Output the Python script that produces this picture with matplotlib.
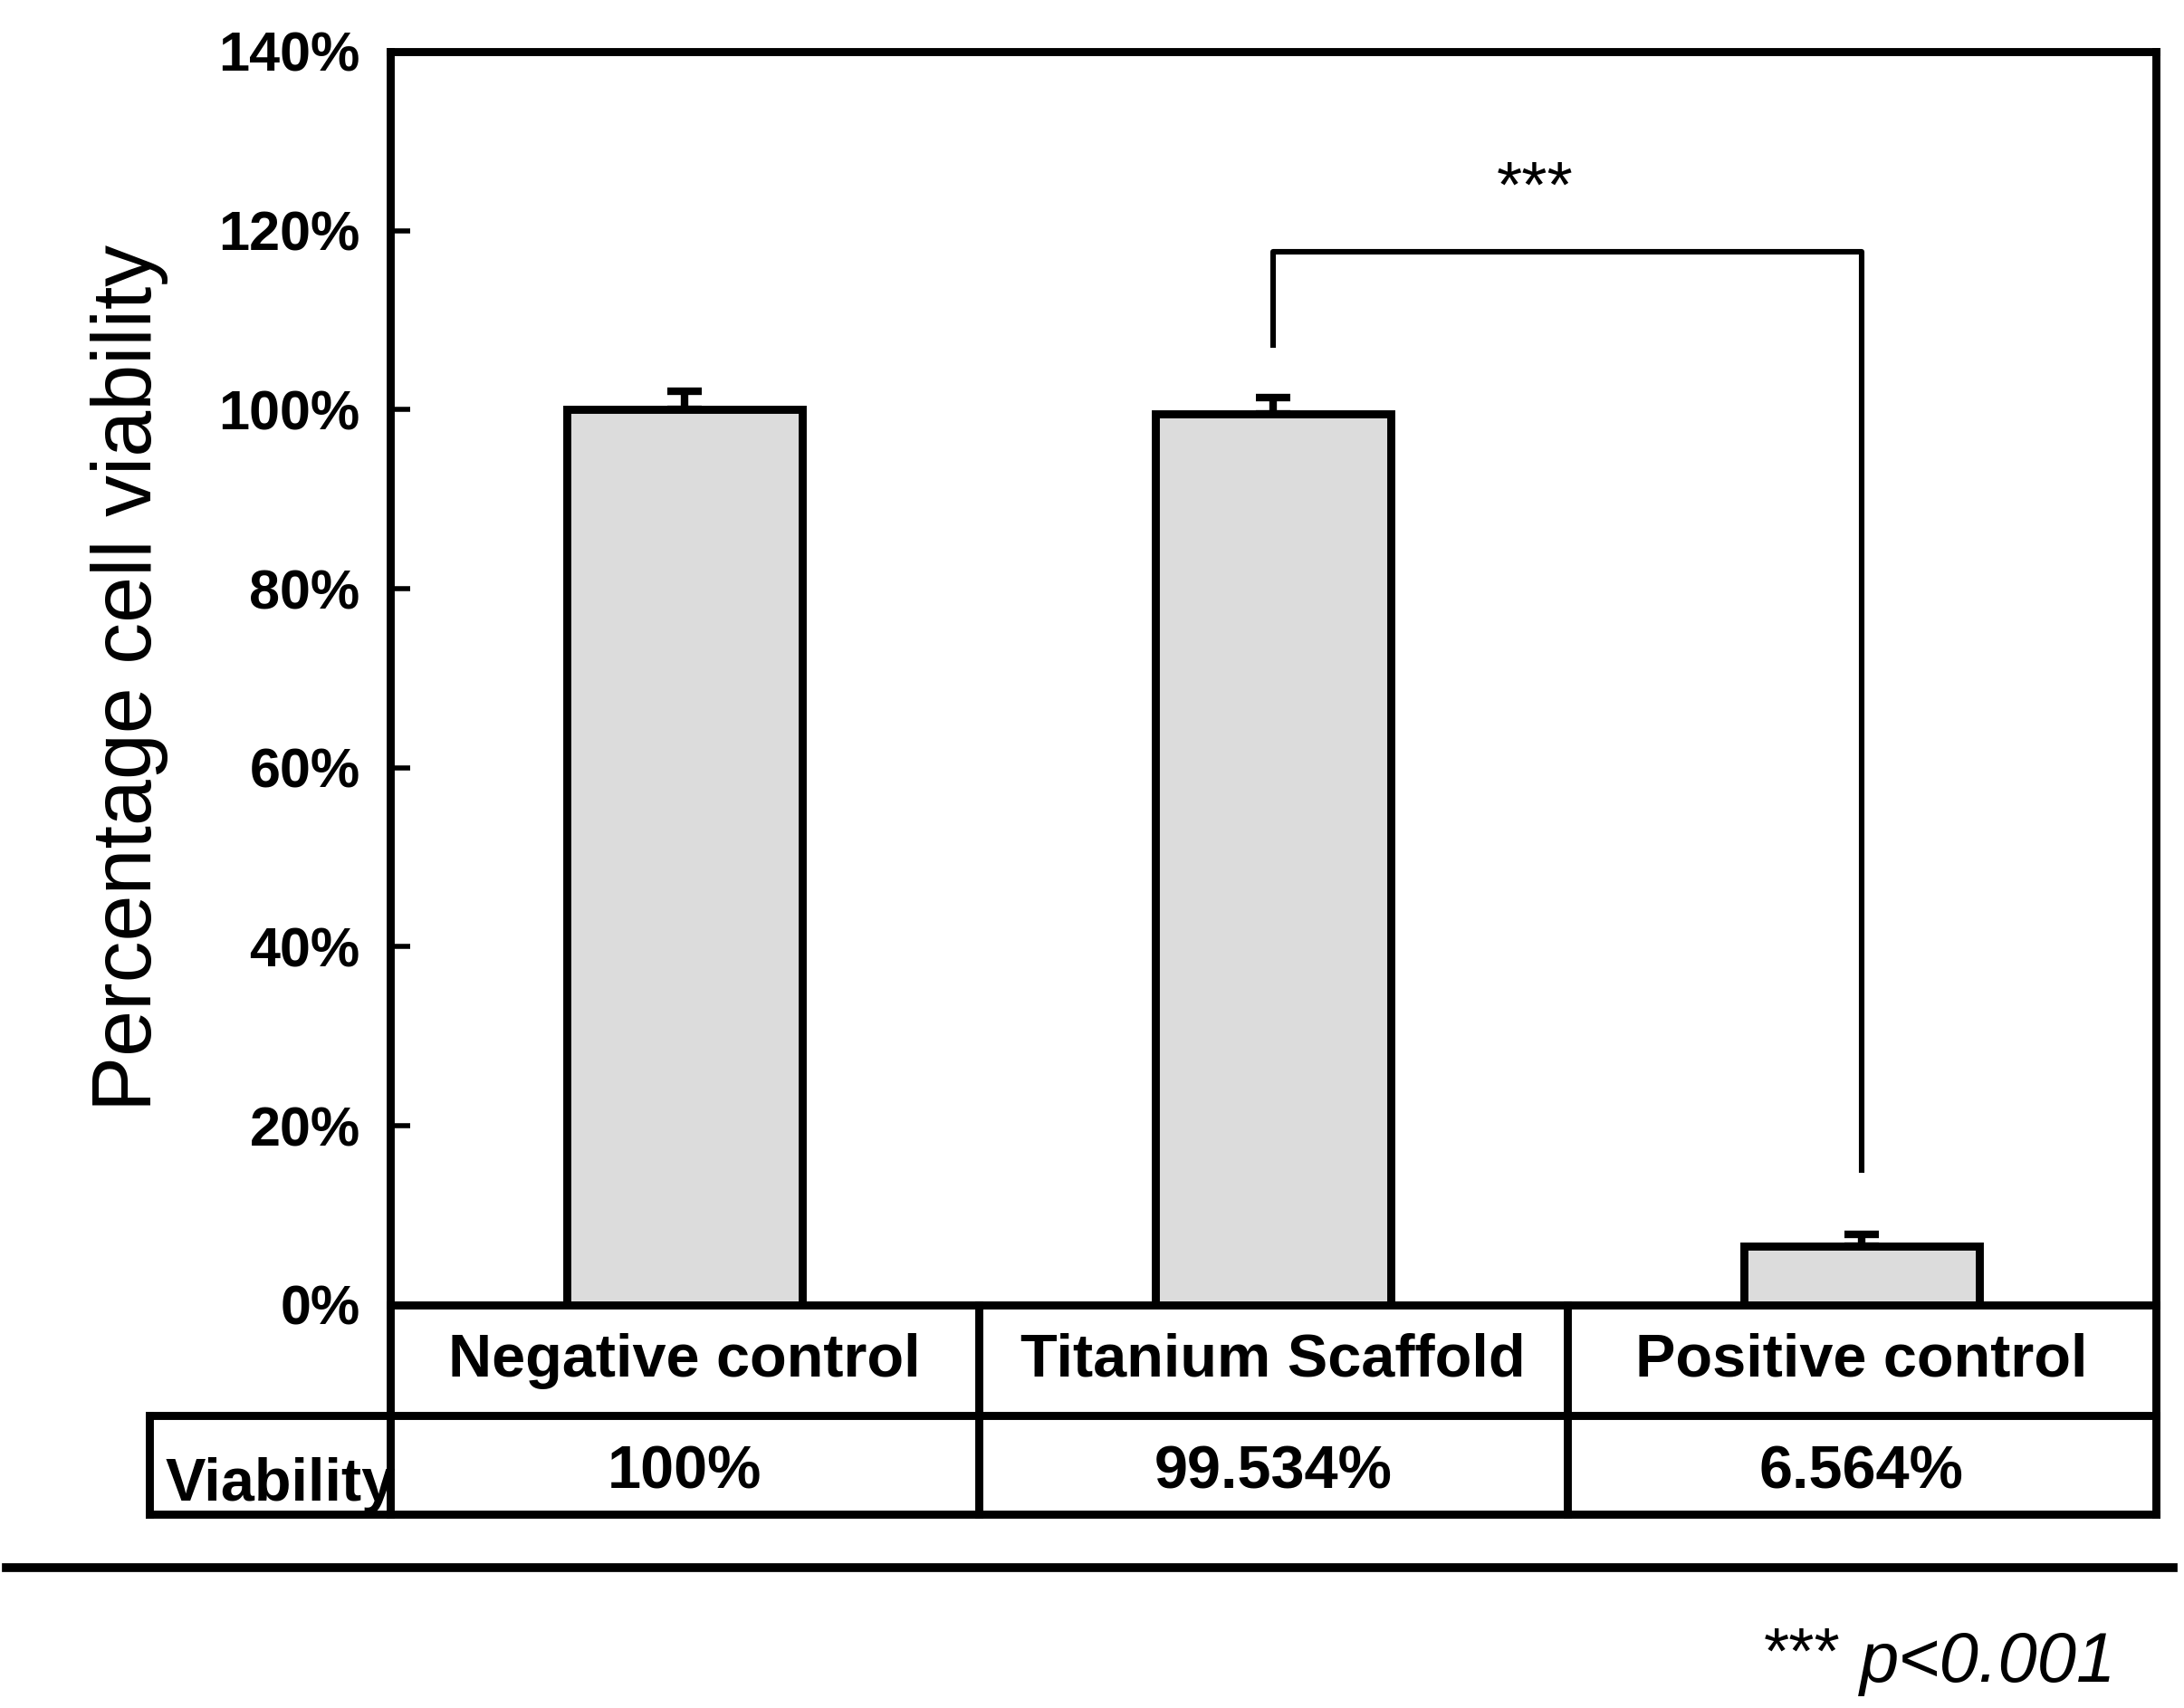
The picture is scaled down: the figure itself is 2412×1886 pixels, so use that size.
import matplotlib.pyplot as plt
import matplotlib.transforms as mtransforms

plt.rcParams['font.family'] = ['Liberation Sans', 'DejaVu Sans']

groups = ['Negative control', 'Titanium Scaffold', 'Positive control']
viability = [100, 99.534, 6.564]
err_up = [2.1, 1.8, 1.3]
viability_text = ['100%', '99.534%', '6.564%']
yticks = [0, 20, 40, 60, 80, 100, 120, 140]

fig = plt.figure(figsize=(12.06, 9.43), dpi=200)
ax = fig.add_axes([0.1787, 0.236, 0.8084, 0.7338])

x = [i + 0.5 for i in range(len(groups))]
lw = 3.2
ax.bar(x, viability, width=0.40, color='#dcdcdc', edgecolor='black', linewidth=lw, zorder=3)
ax.errorbar(x, viability, yerr=[[0] * len(x), err_up], fmt='none', ecolor='black',
            elinewidth=3, capsize=7, capthick=3, zorder=2)

ax.set_xlim(0, 3)
ax.set_ylim(0, 140)
ax.set_yticks(yticks)
ax.set_yticklabels([str(t) + '%' for t in yticks], fontsize=22, fontweight='bold')
ax.set_xticks([])
ax.tick_params(axis='y', direction='in', length=8, width=2, pad=12)
for s in ax.spines.values():
    s.set_linewidth(lw)
ax.set_ylabel('Percentage cell viability', fontsize=33, labelpad=20)

# significance bracket between titanium and positive control
ax.plot([x[1], x[1], x[2], x[2]], [107.2, 117.6, 117.6, 15.1], color='black', lw=2.2)
ax.text(1.945, 124.5, '***', ha='center', va='center', fontsize=26)

# table below the axis
tr = mtransforms.blended_transform_factory(ax.transData, ax.transAxes)
r1 = -0.0882
r2 = -0.1669
left2 = -0.409
kw = dict(color='black', lw=lw, transform=tr, clip_on=False, solid_capstyle='projecting')
ax.plot([0, 0], [0, r2], **kw)
ax.plot([3, 3], [0, r2], **kw)
ax.plot([1, 1], [0, r2], **kw)
ax.plot([2, 2], [0, r2], **kw)
ax.plot([left2, 3], [r1, r1], **kw)
ax.plot([left2, 3], [r2, r2], **kw)
ax.plot([left2, left2], [r1, r2], **kw)
for i in range(len(groups)):
    ax.text(x[i], -0.0448, groups[i], transform=tr, ha='center', va='center',
            fontsize=24, fontweight='bold')
    ax.text(x[i], -0.134, viability_text[i], transform=tr, ha='center', va='center',
            fontsize=24, fontweight='bold')
ax.text(-0.382, -0.156, 'Viability', transform=tr, ha='left', va='baseline',
        fontsize=24, fontweight='bold')

# footer rule and note
fig.add_artist(plt.Line2D([0.003, 0.995], [0.0822, 0.0822], color='black', lw=3.5))
fig.text(0.969, 0.026, 'p<0.001', ha='right', va='center', fontsize=28, style='italic')
fig.text(0.8425, 0.030, '***', ha='right', va='center', fontsize=26)

fig.savefig('out.png', dpi=200)
